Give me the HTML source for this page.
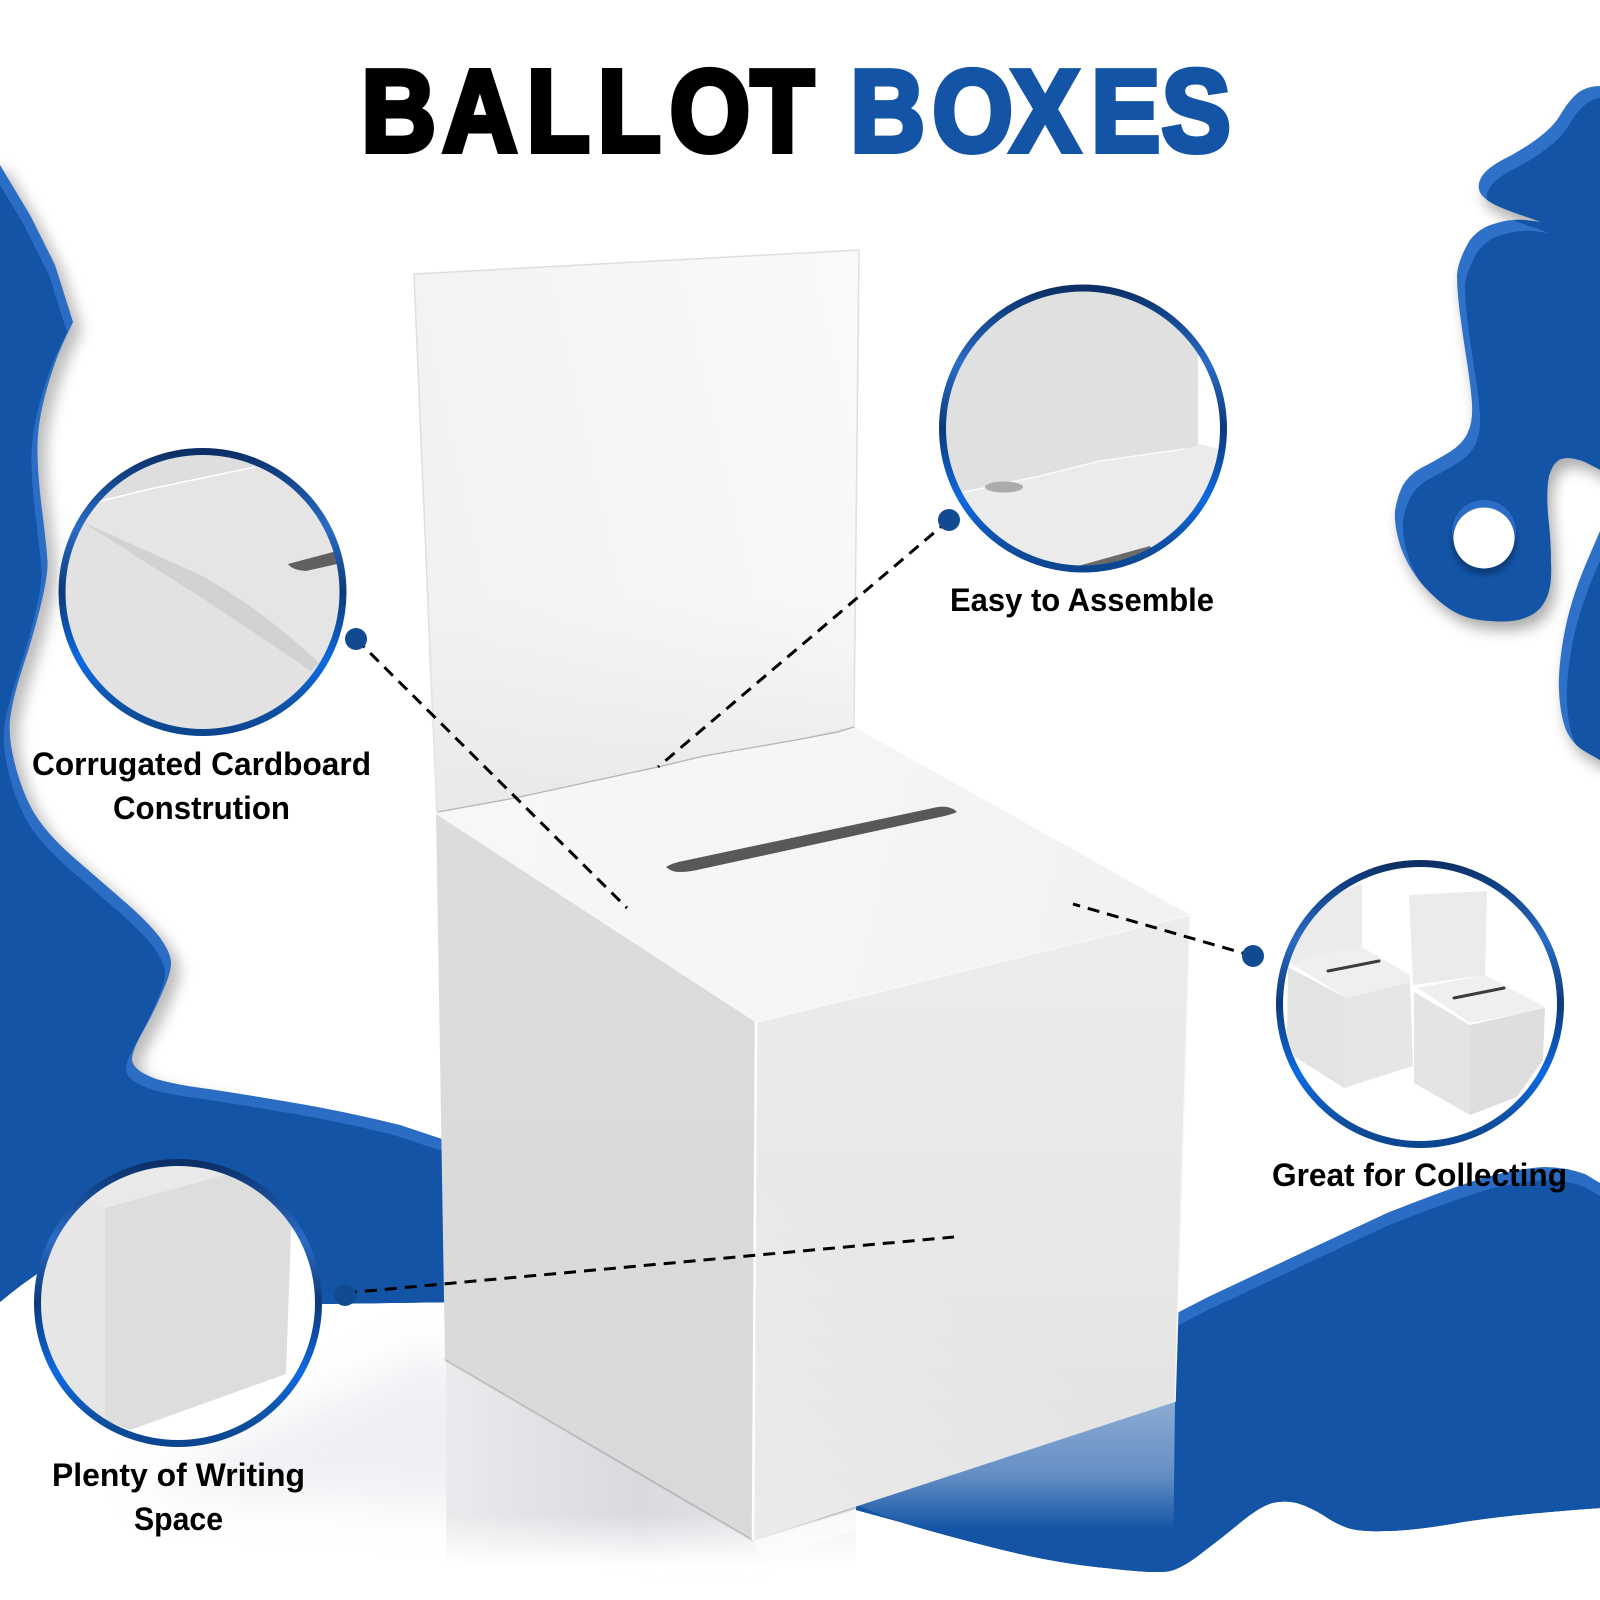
<!DOCTYPE html>
<html><head><meta charset="utf-8"><style>html,body{margin:0;padding:0;background:#fff}svg{display:block}text{font-family:"Liberation Sans",sans-serif;font-weight:700}</style></head><body>
<svg width="1600" height="1600" viewBox="0 0 1600 1600" xmlns="http://www.w3.org/2000/svg">
<defs>
<path id="bl" d="M-20,160 L0,165 L30,215 L55,265 L73,322 L64,341 Q55,360 46.5,390 Q38,420 37.5,445 Q37,470 42,510 Q47,550 47.5,562 Q48,575 41.5,602 Q35,630 23.5,665 Q12,700 10,720 Q8,740 16.5,770 Q25,800 38,819 Q51,838 76.5,860 Q102,882 125,902 Q148,922 159.5,937 Q171,953 171,963 Q171,973 162,993 Q153,1014 141.5,1034 Q130,1055 132.5,1062 Q135,1070 149,1076 Q163,1083 209,1089 Q255,1096 301,1104 Q347,1112 400,1125 L460,1145 L460,1302 L321,1304 L100,1240 Q50,1260 0,1302 L-20,1320 Z"/>
<path id="br" d="M1620,80 L1600,86 Q1588,86 1579,92 Q1570,99 1562,112 Q1555,125 1542,135 Q1530,145 1510,156 Q1489,166 1482,176 Q1476,186 1481,194 Q1486,201 1500,207 Q1514,213 1527,217 L1541,222 L1525,220 Q1510,219 1497,223 Q1480,227 1470,240 Q1458,260 1457,275 Q1457,291 1460,314 Q1463,337 1467,362 Q1471,388 1472,404 Q1473,421 1468,432 Q1463,444 1448,453 Q1433,462 1421,468 Q1410,474 1403,485 Q1397,497 1395,511 Q1394,525 1400,545 Q1407,566 1422,584 Q1438,602 1453,611 Q1468,620 1491,621 Q1514,623 1527,617 Q1540,612 1546,599 Q1552,587 1551,564 Q1551,541 1548,515 Q1546,490 1549,476 Q1553,462 1561,459 Q1570,456 1585,462 L1620,480 Z M1620,500 L1600,531 L1585,566 Q1570,602 1564,635 Q1558,668 1559,691 Q1560,714 1566,730 Q1573,745 1586,752 L1600,760 L1620,765 Z"/>
<path id="bb" d="M1170,1316 L1177,1313 L1208,1297 L1310,1249 L1387,1213 Q1463,1183 1494,1175 Q1524,1168 1545,1167 Q1565,1167 1585,1174 L1620,1195 L1620,1506 L1600,1508 Q1514,1514 1463,1522 Q1412,1531 1386,1531 Q1361,1532 1348,1528 Q1336,1524 1323,1515 Q1310,1507 1297,1503 Q1285,1500 1272,1503 Q1259,1507 1241,1522 Q1223,1537 1203,1552 Q1183,1568 1170,1571 Q1157,1574 1106,1568 Q1055,1563 999,1549 Q943,1535 900,1522 L856,1510 L856,1400 Z"/>
<clipPath id="cbl"><use href="#bl"/></clipPath>
<clipPath id="cbr"><use href="#br"/></clipPath>
<clipPath id="cbb"><use href="#bb"/></clipPath>
<clipPath id="top"><rect x="-30" y="0" width="1700" height="1090"/></clipPath>
<filter id="sh" x="-20%" y="-20%" width="140%" height="140%"><feGaussianBlur stdDeviation="7"/></filter>
<filter id="sf" x="-30%" y="-30%" width="160%" height="160%"><feGaussianBlur stdDeviation="22"/></filter>
<filter id="s2"><feGaussianBlur stdDeviation="2.5"/></filter>
<filter id="s1" x="-5%" y="-5%" width="110%" height="110%"><feGaussianBlur stdDeviation=".9"/></filter>
<linearGradient id="ring" x1="0" y1="0" x2="0" y2="1">
<stop offset="0" stop-color="#0c2f66"/><stop offset=".08" stop-color="#114184"/><stop offset=".27" stop-color="#2a6cc6"/><stop offset=".5" stop-color="#0c3a7a"/><stop offset=".75" stop-color="#0d6ae2"/><stop offset=".92" stop-color="#0f4f9f"/><stop offset="1" stop-color="#0b4590"/>
</linearGradient>
<linearGradient id="pan" x1="414" y1="500" x2="859" y2="400" gradientUnits="userSpaceOnUse"><stop offset="0" stop-color="#f2f2f2"/><stop offset="1" stop-color="#f9f9f9"/></linearGradient>
<linearGradient id="pan2" x1="0" y1="600" x2="0" y2="810" gradientUnits="userSpaceOnUse"><stop offset="0" stop-color="#e9e9e9" stop-opacity="0"/><stop offset="1" stop-color="#e8e8e8" stop-opacity=".9"/></linearGradient>
<linearGradient id="lid" x1="500" y1="800" x2="1100" y2="950" gradientUnits="userSpaceOnUse"><stop offset="0" stop-color="#f7f7f7"/><stop offset=".6" stop-color="#f5f5f5"/><stop offset="1" stop-color="#f2f2f2"/></linearGradient>
<linearGradient id="lf" x1="0" y1="813" x2="0" y2="1540" gradientUnits="userSpaceOnUse"><stop offset="0" stop-color="#dcdcdc"/><stop offset="1" stop-color="#d9d9d9"/></linearGradient>
<linearGradient id="rf" x1="0" y1="915" x2="0" y2="1540" gradientUnits="userSpaceOnUse"><stop offset="0" stop-color="#ececec"/><stop offset=".6" stop-color="#e7e7e7"/><stop offset="1" stop-color="#e0e0e0"/></linearGradient>
<linearGradient id="rw" x1="760" y1="1530" x2="930" y2="1270" gradientUnits="userSpaceOnUse"><stop offset="0" stop-color="#fff" stop-opacity=".35"/><stop offset="1" stop-color="#fff" stop-opacity="0"/></linearGradient>
<linearGradient id="refl" x1="0" y1="1405" x2="0" y2="1530" gradientUnits="userSpaceOnUse"><stop offset="0" stop-color="#fff" stop-opacity=".5"/><stop offset=".55" stop-color="#fff" stop-opacity=".35"/><stop offset="1" stop-color="#fff" stop-opacity="0"/></linearGradient>
<linearGradient id="lref" x1="446" y1="0" x2="800" y2="0" gradientUnits="userSpaceOnUse"><stop offset="0" stop-color="#eaebed"/><stop offset=".25" stop-color="#e2e3e6"/><stop offset=".55" stop-color="#d8dadf"/><stop offset=".85" stop-color="#e2e3e6"/><stop offset="1" stop-color="#f2f2f4"/></linearGradient>
<linearGradient id="lfade" x1="0" y1="1515" x2="0" y2="1565" gradientUnits="userSpaceOnUse"><stop offset="0" stop-color="#fff" stop-opacity="0"/><stop offset="1" stop-color="#fff"/></linearGradient>
<clipPath id="c1"><circle cx="202.5" cy="592" r="141"/></clipPath>
<clipPath id="c2"><circle cx="1083" cy="428.5" r="141"/></clipPath>
<clipPath id="c3"><circle cx="178" cy="1303" r="141"/></clipPath>
<clipPath id="c4"><circle cx="1420" cy="1004" r="141"/></clipPath>
</defs>

<rect width="1600" height="1600" fill="#fff"/>

<!-- blobs -->
<g clip-path="url(#top)"><use href="#bl" transform="translate(9,8)" fill="#000" opacity=".26" filter="url(#sh)"/></g>
<use href="#bl" fill="#2b6dc4"/>
<g clip-path="url(#cbl)"><use href="#bl" transform="translate(-6,10)" fill="#1354a6"/><rect x="-20" y="1150" width="500" height="180" fill="#1354a6"/></g>

<use href="#br" transform="translate(5,9)" fill="#000" opacity=".32" filter="url(#sh)"/>
<use href="#br" fill="#2f71c8"/>
<g clip-path="url(#cbr)"><use href="#br" transform="translate(8,11)" fill="#1354a6"/></g>
<circle cx="1484" cy="542" r="33" fill="#0b3d7d" filter="url(#s2)"/>
<circle cx="1484" cy="532" r="32" fill="#2b6dc4"/>
<circle cx="1484" cy="538" r="30.5" fill="#fff"/>

<use href="#bb" fill="#2b6dc4"/>
<g clip-path="url(#cbb)"><use href="#bb" transform="translate(0,13)" fill="#1354a6"/><rect x="850" y="1400" width="800" height="200" fill="#1354a6"/>
<polygon points="1175,1400 856,1505 900,1522 1055,1563 1157,1574 1173,1574" fill="url(#refl)"/></g>

<!-- floor -->
<polygon points="140,1490 440,1345 445,1359 754,1540 500,1510" fill="#dfe2e8" opacity=".5" filter="url(#sf)"/>
<polygon points="446,1358 754,1540 856,1507 856,1570 446,1570" fill="url(#lref)"/>
<rect x="446" y="1515" width="411" height="56" fill="url(#lfade)"/>
<polygon points="754,1540 760,1560 856,1530 856,1510" fill="#fff" opacity=".5"/>

<!-- box -->
<polygon points="414,274 859,250 854,727 796,740 704,756 607,778 515,798 437,815" fill="url(#pan)" stroke="#dedede" stroke-width="1.5"/>
<polygon points="425,600 857,600 854,727 796,740 704,756 607,778 515,798 437,815" fill="url(#pan2)"/>
<polygon points="436,813 515,798 607,778 704,756 796,740 838,732 854,727 1190,915 757,1022" fill="url(#lid)"/>
<polyline points="438,812 515,798 607,778 658,767 704,756 796,740 838,732 854,727" fill="none" stroke="#b5b5b5" stroke-width="1.3"/>
<polyline points="445,1359 752,1539 856,1507" fill="none" stroke="#8a8a8a" stroke-width="2" opacity=".75" filter="url(#s1)"/>
<polygon points="436,813 757,1022 754,1540 445,1359" fill="url(#lf)"/>
<polygon points="757,1022 1190,915 1175,1402 754,1540" fill="url(#rf)"/>
<polygon points="757,1022 1190,915 1175,1402 754,1540" fill="url(#rw)"/>
<polyline points="436,813 757,1022" stroke="#f6f6f6" stroke-width="2" fill="none"/>
<polyline points="757,1022 1190,915 1175,1402" stroke="#f8f8f8" stroke-width="1.5" fill="none"/>
<polyline points="756,1022 753,1540" stroke="#fff" stroke-width="2.5" fill="none"/>
<path d="M666,867 Q672,863 683,861 L933,808 Q942,806 947,807 Q953,808 957,812 Q950,815 940,817 L697,870 Q688,872 680,872 Q671,872 666,867 Z" fill="#585858"/>

<!-- dashed connectors -->
<g stroke="#000" stroke-width="3" stroke-dasharray="12 8" fill="none">
<line x1="356" y1="639" x2="627" y2="908"/>
<line x1="949" y1="520" x2="658" y2="767"/>
<line x1="345" y1="1293" x2="954" y2="1237"/>
<line x1="1253" y1="956" x2="1073" y2="904"/>
</g>
<g fill="#124a92">
<circle cx="356" cy="639" r="11"/><circle cx="949" cy="520" r="11"/><circle cx="345" cy="1295" r="11"/><circle cx="1253" cy="956" r="11"/>
</g>

<!-- circle 1 -->
<g clip-path="url(#c1)">
<rect x="55" y="445" width="300" height="300" fill="#e5e5e5"/>
<polygon points="60,445 350,445 255,467 97,502" fill="#dedede"/>
<polyline points="97,502 150,489 255,467" stroke="#fff" stroke-width="1.5" fill="none"/>
<path d="M70,515 Q150,555 204,577 Q265,610 322,665 L360,760 L55,760 Z" fill="#e2e2e2"/>
<path d="M84,523 Q150,552 204,577 Q265,612 319,663 L311,671 Q255,633 205,600 Q150,565 84,523 Z" fill="#d2d2d2"/>
<path d="M288,564 L337,551 L337,564 L306,571 Q292,570 288,564 Z" fill="#606060"/>
</g>
<circle cx="202.5" cy="592" r="140.5" fill="none" stroke="url(#ring)" stroke-width="7"/>

<!-- circle 2 -->
<g clip-path="url(#c2)">
<rect x="935" y="280" width="300" height="300" fill="#e0e0e0"/>
<rect x="1198" y="280" width="40" height="175" fill="#fff"/>
<polygon points="960,493 1040,476 1100,461 1185,449 1200,444 1240,455 1240,590 935,590" fill="#ebebeb"/>
<polyline points="960,493 1040,476 1100,461 1185,449" stroke="#fafafa" stroke-width="1.5" fill="none"/>
<ellipse cx="1004" cy="487" rx="19" ry="5.5" fill="#ababab"/>
<polygon points="1078,566 1150,546 1160,570 1078,575" fill="#6a6a6a"/>
</g>
<circle cx="1083" cy="428.5" r="140.5" fill="none" stroke="url(#ring)" stroke-width="7"/>

<!-- circle 3 -->
<g clip-path="url(#c3)">
<rect x="30" y="1155" width="300" height="300" fill="#fff"/>
<polygon points="30,1155 330,1155 330,1175 260,1165 105,1208 85,1195 30,1190" fill="#e9e9e9"/>
<polygon points="30,1190 85,1195 105,1208 105,1420 130,1432 30,1450" fill="#e6e6e6"/>
<polygon points="105,1208 260,1165 300,1195 291,1231 286,1374 130,1430 105,1420" fill="#dddddd"/>
</g>
<circle cx="178" cy="1303" r="140.5" fill="none" stroke="url(#ring)" stroke-width="7"/>

<!-- circle 4 -->
<g clip-path="url(#c4)">
<rect x="1275" y="860" width="290" height="290" fill="#fff"/>
<polygon points="1362,883 1362,948 1290,963 1280,920" fill="#ebebeb"/>
<path d="M1290,963 L1327,953 L1362,947 L1410,975 L1410,982 L1346,998 Q1315,978 1290,963 Z" fill="#efefef"/>
<polygon points="1288,967 1346,998 1344,1088 1295,1057 1287,1040" fill="#e3e3e3"/>
<polygon points="1346,998 1410,982 1413,1066 1344,1088" fill="#e6e6e6"/>
<line x1="1328" y1="971" x2="1379" y2="961" stroke="#3c3c3c" stroke-width="3" stroke-linecap="round"/>
<polygon points="1409,895 1487,891 1485,975 1413,985" fill="#ebebeb"/>
<path d="M1417,988 L1485,975 L1545,1007 L1545,1009 L1470,1023 Q1445,1005 1417,988 Z" fill="#efefef"/>
<polygon points="1414,992 1470,1025 1470,1115 1414,1083" fill="#e4e4e4"/>
<polygon points="1470,1025 1545,1008 1543,1060 1517,1097 1470,1115" fill="#dedede"/>
<line x1="1454" y1="998" x2="1504" y2="988" stroke="#3c3c3c" stroke-width="3" stroke-linecap="round"/>
</g>
<circle cx="1420" cy="1004" r="140.5" fill="none" stroke="url(#ring)" stroke-width="7"/>

<!-- title -->
<g transform="scale(.89,1)" font-size="116" stroke-width="6">
<text x="406.1 497.4 591.8 671.6 752.5 843.5" y="151" fill="#000" stroke="#000">BALLOT</text>
<text x="955.5 1047.8 1135.6 1226.1 1305.3" y="151" fill="#1354a6" stroke="#1354a6">BOXES</text>
</g>

<!-- labels -->
<g font-size="32" fill="#000">
<text x="32" y="775" textLength="339" lengthAdjust="spacingAndGlyphs">Corrugated Cardboard</text>
<text x="113" y="819" textLength="177" lengthAdjust="spacingAndGlyphs">Constrution</text>
<text x="950" y="611" textLength="264" lengthAdjust="spacingAndGlyphs">Easy to Assemble</text>
<text x="1272" y="1186" textLength="295" lengthAdjust="spacingAndGlyphs">Great for Collecting</text>
<text x="52" y="1486" textLength="253" lengthAdjust="spacingAndGlyphs">Plenty of Writing</text>
<text x="134" y="1530" textLength="89" lengthAdjust="spacingAndGlyphs">Space</text>
</g>
</svg>
</body></html>
